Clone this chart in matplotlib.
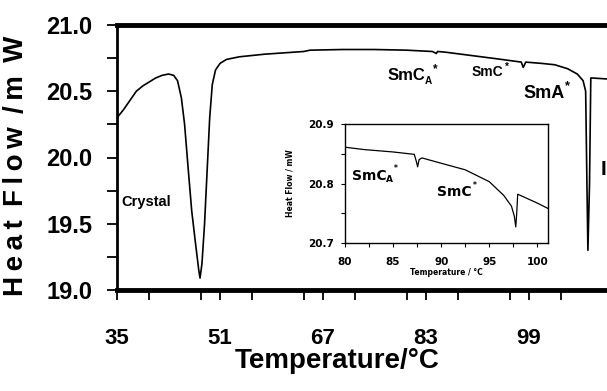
import matplotlib
matplotlib.use("Agg")
import matplotlib.pyplot as plt
from matplotlib.ticker import MultipleLocator

SANS = 'Liberation Sans'
WIDE = 'DejaVu Sans'

# ---- main DSC trace ----
main_temp = [35, 36, 37, 38, 39, 40, 41, 42, 43, 43.8, 44.4, 45.0, 45.5, 46.0, 46.6,
             47.2, 47.7, 47.9, 48.2, 48.6, 49.0, 49.4, 49.8, 50.3, 51, 52, 54, 56, 58,
             61, 64, 65, 70, 75, 80, 84, 84.6, 84.8, 86, 90, 94, 97.8, 98.1, 98.3,
             98.5, 101, 103, 105, 106.5, 107.4, 107.8, 108.0, 108.15, 108.4, 108.6,
             108.8, 112]
main_hf = [20.30, 20.36, 20.43, 20.50, 20.54, 20.57, 20.60, 20.62, 20.63, 20.62, 20.58,
           20.45, 20.25, 19.95, 19.60, 19.35, 19.15, 19.09, 19.20, 19.50, 19.90, 20.30,
           20.55, 20.66, 20.71, 20.74, 20.76, 20.77, 20.78, 20.79, 20.80, 20.81, 20.815,
           20.815, 20.81, 20.80, 20.785, 20.80, 20.795, 20.77, 20.745, 20.72, 20.68,
           20.70, 20.72, 20.71, 20.70, 20.67, 20.63, 20.58, 20.50, 19.80, 19.30, 19.80,
           20.60, 20.60, 20.59]

# ---- inset trace ----
ins_temp = [80, 82, 85, 87.2, 87.4, 87.55, 87.7, 88, 90, 92.5, 95, 96.5, 97.3, 97.6,
            97.75, 97.85, 97.95, 100, 101.1]
ins_hf = [20.861, 20.857, 20.853, 20.849, 20.838, 20.828, 20.84, 20.843, 20.834, 20.823,
          20.803, 20.78, 20.762, 20.745, 20.727, 20.75, 20.782, 20.767, 20.758]

main_xticks = [35, 51, 67, 83, 99]
main_yticks = [19.0, 19.5, 20.0, 20.5, 21.0]
ins_xticks = [80, 85, 90, 95, 100]
ins_yticks = [20.7, 20.8, 20.9]

W, H = 607, 391
fig = plt.figure(figsize=(W / 100, H / 100), dpi=100)
renderer = fig.canvas.get_renderer()

def px(x0, y0, x1, y1):
    return [x0 / W, 1 - y1 / H, (x1 - x0) / W, (y1 - y0) / H]

ax = fig.add_axes(px(117, 25, 117 + 80 * 6.4375, 290))
ax.plot(main_temp, main_hf, color='black', lw=1.2)
ax.set_xlim(35, 115)
ax.set_ylim(19.0, 21.0)
ax.set_xticks(main_xticks)
ax.set_yticks(main_yticks)
ax.xaxis.set_minor_locator(MultipleLocator(8))
ax.yaxis.set_minor_locator(MultipleLocator(0.25))
ax.set_xticklabels([str(t) for t in main_xticks], family=SANS, fontweight='bold', fontsize=16)
ax.set_yticklabels([f'{t:.1f}' for t in main_yticks], family=SANS, fontweight='bold', fontsize=17)
ax.tick_params(axis='x', which='both', direction='out', length=7, width=1.3, pad=20)
ax.tick_params(axis='y', which='both', direction='out', length=7, width=1.3, pad=11)
ax.spines['top'].set_linewidth(3.5)
ax.spines['bottom'].set_linewidth(3.5)
ax.spines['left'].set_linewidth(2)
ax.spines['right'].set_linewidth(2)

fig.text(337 / W, 1 - 361 / H, 'Temperature/°C', family=SANS, fontweight='bold',
         fontsize=20, ha='center', va='center')
fig.text(16 / W, 1 - 166 / H, 'H\u2009e\u2009a\u2009t\u2009 F\u2009l\u2009o\u2009w\u2009 /\u2009m\u2009 W',
         family=[SANS, 'DejaVu Sans'], fontweight='bold', fontsize=20,
         rotation=90, ha='center', va='center')


def phase(x, y, base, size, sub=None, sup=True, fam=SANS, sub_dy=4, sup_dy=-6,
          small=0.6, star=0.7):
    """Place label text at pixel position (x = left, y = centre)."""
    t = fig.text(x / W, 1 - y / H, base, family=fam, fontweight='bold', fontsize=size,
                 ha='left', va='center')
    bb = t.get_window_extent(renderer)
    xe = bb.x1
    xs = xe
    if sub:
        ts = fig.text((xe - 1) / W, 1 - (y + sub_dy) / H, sub, family=fam, fontweight='bold',
                      fontsize=size * small, ha='left', va='center')
        xs = ts.get_window_extent(renderer).x1
    fig.text((xs + 1) / W, 1 - (y + sup_dy) / H, '*', family=fam, fontweight='bold',
             fontsize=size * star, ha='left', va='center')


fig.text(121 / W, 1 - 202 / H, 'Crystal', family=SANS, fontweight='bold', fontsize=10.5,
         ha='left', va='center')
phase(388, 76, 'SmC', 12, sub='A', sub_dy=5, sup_dy=-7)
phase(472, 72, 'SmC', 10, sup_dy=-5)
phase(523, 94, 'SmA', 13, sup_dy=-8)
fig.text(601 / W, 1 - 170 / H, 'I', family=SANS, fontweight='bold', fontsize=15,
         ha='left', va='center')

# ---- inset ----
ai = fig.add_axes(px(345, 124, 548, 243))
ai.plot(ins_temp, ins_hf, color='black', lw=0.9)
ai.set_xlim(80, 101.1)
ai.set_ylim(20.7, 20.9)
ai.set_xticks(ins_xticks)
ai.set_yticks(ins_yticks)
ai.xaxis.set_minor_locator(MultipleLocator(2.5))
ai.yaxis.set_minor_locator(MultipleLocator(0.05))
ai.set_xticklabels([str(t) for t in ins_xticks], family=WIDE, fontweight='bold', fontsize=7.5)
ai.set_yticklabels([f'{t:.1f}' for t in ins_yticks], family=WIDE, fontweight='bold', fontsize=7.5)
ai.tick_params(axis='x', which='both', direction='out', length=3, width=0.8, pad=7)
ai.tick_params(axis='y', which='both', direction='out', length=3, width=0.8, pad=5)
for s in ai.spines.values():
    s.set_linewidth(1.0)
ai.set_xlabel('Temperature / °C', family=WIDE, fontweight='bold', fontsize=5.5, labelpad=1)
ai.set_ylabel('Heat Flow / mW', family=WIDE, fontweight='bold', fontsize=5.5, labelpad=10)

phase(352, 176, 'SmC', 10, sub='A', fam=WIDE, sub_dy=4, sup_dy=-7, small=0.65, star=0.55)
phase(437, 192, 'SmC', 10, fam=WIDE, sup_dy=-7, star=0.55)

fig.savefig('out.png', dpi=100)
